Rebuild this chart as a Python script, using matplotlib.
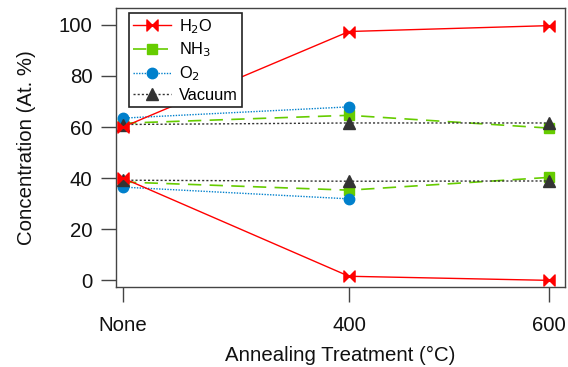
import matplotlib
matplotlib.use("Agg")
import matplotlib.pyplot as plt
from matplotlib.path import Path

plt.rcParams['font.family'] = ['Liberation Sans', 'DejaVu Sans']

# Data
x_labels = ["None", "400", "600"]
x_pos = [174, 400, 600]

h2o_hi = [60, 97.4, 99.7]
h2o_lo = [40, 1.6, 0.0]
nh3_hi = [61.5, 64.6, 59.6]
nh3_lo = [38.5, 35.3, 40.3]
o2_hi = [63.5, 67.9]
o2_lo = [36.5, 31.9]
vac_hi = [61.0, 61.6, 61.6]
vac_lo = [39.2, 38.8, 38.9]

bowtie = Path([(-1, -1), (0, 0), (-1, 1), (-1, -1), (1, -1), (0, 0), (1, 1), (1, -1)],
              [Path.MOVETO, Path.LINETO, Path.LINETO, Path.CLOSEPOLY,
               Path.MOVETO, Path.LINETO, Path.LINETO, Path.CLOSEPOLY])

fig = plt.figure(figsize=(5.68, 3.67), dpi=100)
ax = fig.add_axes([116/568, 1-287/367, (565-116)/568, (287-8)/367])

red = '#FF0000'
green = '#66CC00'
blue = '#0080CC'
gray = '#333333'

for i, ys in enumerate([h2o_hi, h2o_lo]):
    ax.plot(x_pos[:len(ys)], ys, color=red, lw=1, marker=bowtie, ms=8,
            mec=red, mfc=red, label='H$_2$O' if i == 0 else None, zorder=5)
for i, ys in enumerate([nh3_hi, nh3_lo]):
    ax.plot(x_pos[:len(ys)], ys, color=green, lw=1.2, ls=(0, (8, 5)), marker='s', ms=7.2,
            mec=green, mfc=green, label='NH$_3$' if i == 0 else None, zorder=3)
for i, ys in enumerate([o2_hi, o2_lo]):
    ax.plot(x_pos[:len(ys)], ys, color=blue, lw=1, ls=(0, (1, 1)), marker='o', ms=7.5,
            mec=blue, mfc=blue, label='O$_2$' if i == 0 else None, zorder=4)
for i, ys in enumerate([vac_hi, vac_lo]):
    ax.plot(x_pos[:len(ys)], ys, color=gray, lw=1, ls=(0, (1.5, 1.5)), marker='^', ms=8.5,
            mec=gray, mfc=gray, label='Vacuum' if i == 0 else None, zorder=4)

ax.set_xlim(167, 616)
ax.set_ylim(-2.6, 106.6)
ax.set_xticks(x_pos)
ax.set_xticklabels(x_labels)
ax.set_yticks([0, 20, 40, 60, 80, 100])
ax.tick_params(direction='out', length=11, width=1, labelsize=14.7, colors='#444444',
               labelcolor='#111111')
ax.tick_params(axis='y', pad=6)
ax.tick_params(axis='x', pad=10)
for sp in ax.spines.values():
    sp.set_color('#444444')
    sp.set_linewidth(1)

ax.set_xlabel('Annealing Treatment (°C)', fontsize=14.7, color='#111111', labelpad=8)
ax.set_ylabel('Concentration (At. %)', fontsize=14.7, color='#111111', labelpad=16)

leg = ax.legend(loc='upper left', bbox_to_anchor=(13/449, 1-5/279), fontsize=11.8,
                frameon=True, fancybox=False, edgecolor='#222222', framealpha=1,
                handlelength=2.3, borderpad=0.25, labelspacing=0.3, handletextpad=0.5,
                borderaxespad=0)
leg.get_frame().set_linewidth(1.2)

fig.savefig('out.png', dpi=100)
